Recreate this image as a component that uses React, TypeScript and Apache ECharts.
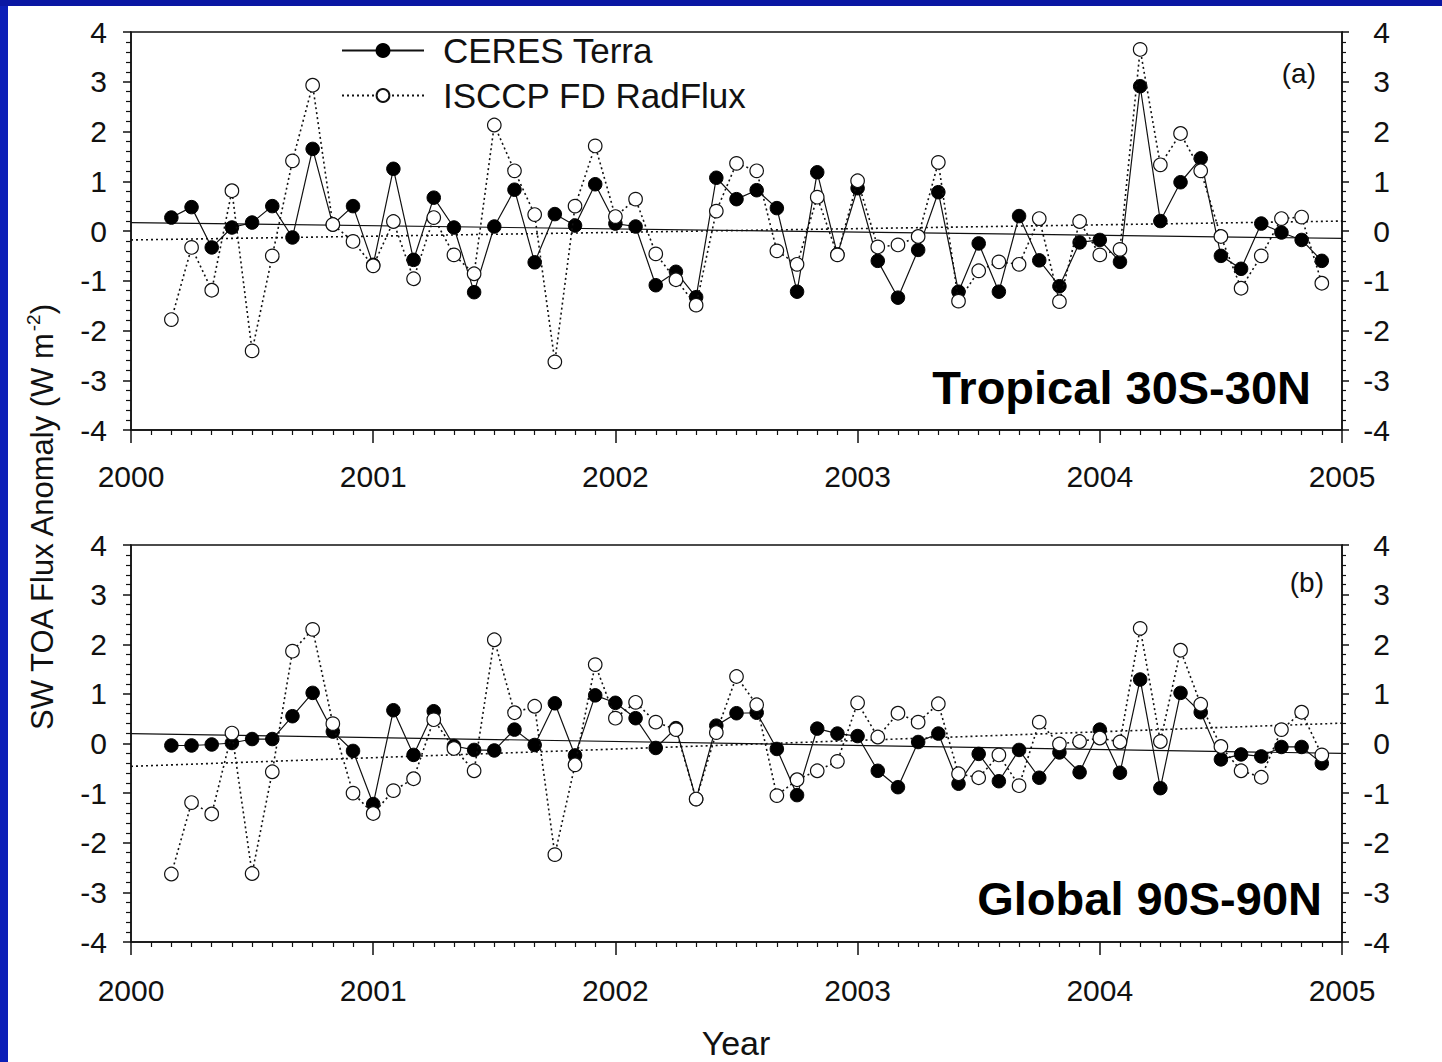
import React, { useEffect, useRef } from 'react';
import * as echarts from 'echarts';

// Monthly anomalies, March 2000 .. December 2004 (58 months)
const startYear = 2000;
const startMonthIndex = 2; // March
const tropCeres = [0.27, 0.48, -0.33, 0.07, 0.17, 0.50, -0.13, 1.65, 0.13, 0.50, -0.68, 1.25, -0.58, 0.67, 0.07, -1.23, 0.09, 0.83, -0.63,
  0.34, 0.11, 0.94, 0.15, 0.09, -1.09, -0.82, -1.33, 1.07, 0.64, 0.82, 0.46, -1.22, 1.18, -0.47, 0.86, -0.60, -1.34, -0.38, 0.78,
  -1.22, -0.25, -1.22, 0.30, -0.59, -1.11, -0.23, -0.18, -0.62, 2.91, 0.20, 0.98, 1.46, -0.50, -0.76, 0.15, -0.03, -0.18, -0.60];
const tropIsccp = [-1.78, -0.33, -1.19, 0.81, -2.41, -0.50, 1.41, 2.93, 0.13, -0.21, -0.70, 0.19, -0.96, 0.27, -0.48, -0.86, 2.13, 1.21, 0.33,
  -2.63, 0.50, 1.71, 0.29, 0.64, -0.46, -0.98, -1.49, 0.40, 1.36, 1.21, -0.40, -0.67, 0.68, -0.48, 1.01, -0.32, -0.28, -0.11, 1.38,
  -1.41, -0.80, -0.62, -0.67, 0.25, -1.42, 0.19, -0.48, -0.37, 3.65, 1.33, 1.96, 1.21, -0.11, -1.15, -0.50, 0.25, 0.28, -1.05];
const globCeres = [-0.04, -0.04, -0.02, 0.01, 0.09, 0.09, 0.55, 1.02, 0.24, -0.15, -1.22, 0.67, -0.23, 0.65, -0.05, -0.13, -0.14, 0.28, -0.03,
  0.81, -0.24, 0.97, 0.82, 0.51, -0.09, 0.31, -1.12, 0.36, 0.61, 0.62, -0.11, -1.04, 0.30, 0.20, 0.15, -0.55, -0.88, 0.03, 0.20,
  -0.81, -0.21, -0.76, -0.13, -0.69, -0.18, -0.58, 0.28, -0.59, 1.29, -0.90, 1.02, 0.63, -0.32, -0.22, -0.26, -0.07, -0.07, -0.40];
const globIsccp = [-2.63, -1.19, -1.42, 0.21, -2.62, -0.57, 1.86, 2.30, 0.40, -1.00, -1.41, -0.95, -0.71, 0.48, -0.10, -0.55, 2.09, 0.62, 0.75,
  -2.24, -0.43, 1.59, 0.51, 0.83, 0.43, 0.28, -1.12, 0.22, 1.35, 0.78, -1.05, -0.73, -0.55, -0.36, 0.82, 0.13, 0.61, 0.43, 0.80,
  -0.61, -0.69, -0.23, -0.85, 0.43, -0.01, 0.04, 0.11, 0.03, 2.32, 0.04, 1.88, 0.79, -0.06, -0.55, -0.68, 0.28, 0.63, -0.23];

// Linear trend end points [value at 2000.0, value at 2005.0]
const tropCeresTrend = [0.17, -0.15];
const tropIsccpTrend = [-0.18, 0.20];
const globCeresTrend = [0.20, -0.20];
const globIsccpTrend = [-0.46, 0.41];
const trendYears = [2000, 2005];

const seriesNames = ['CERES Terra', 'ISCCP FD RadFlux'];
const panelTitles = ['Tropical 30S-30N', 'Global 90S-90N'];
const panelTags = ['(a)', '(b)'];

const FONT = '"Liberation Sans", Arial, sans-serif';
const INK = '#111';

const toXY = (vals: number[]) =>
  vals.map((v, i) => [startYear + (startMonthIndex + i) / 12, v]);
const trendXY = (t: number[]) => trendYears.map((y, i) => [y, t[i]]);

function xAxis(gridIndex: number) {
  return {
    type: 'value', gridIndex, min: 2000, max: 2005, interval: 1,
    axisLine: { show: true, onZero: false, lineStyle: { color: INK, width: 1.5 } },
    axisTick: { show: true, length: 13, lineStyle: { color: INK, width: 1.5 } },
    minorTick: { show: true, splitNumber: 12, length: 5, lineStyle: { color: INK, width: 1.2 } },
    axisLabel: { fontSize: 30, color: INK, margin: gridIndex === 0 ? 31 : 33, fontFamily: FONT, formatter: (v: number) => String(v) },
    splitLine: { show: false }, minorSplitLine: { show: false },
  };
}
function yAxis(gridIndex: number, right: boolean) {
  return {
    type: 'value', gridIndex, min: -4, max: 4, interval: 1, position: right ? 'right' : 'left',
    axisLine: { show: true, onZero: false, lineStyle: { color: INK, width: 1.5 } },
    axisTick: { show: true, length: right ? 7 : 8, lineStyle: { color: INK, width: 1.5 } },
    minorTick: { show: true, splitNumber: 5, length: right ? 4 : 5, lineStyle: { color: INK, width: 1.2 } },
    axisLabel: { fontSize: 30, color: INK, fontFamily: FONT, margin: right ? 48 : 24, align: 'right',
      formatter: (v: number) => String(v) },
    splitLine: { show: false }, minorSplitLine: { show: false },
  };
}

function dataSeries(name: string, vals: number[], idx: number, open: boolean) {
  return {
    type: 'line', name, xAxisIndex: idx, yAxisIndex: idx * 2, data: toXY(vals),
    symbol: 'circle', symbolSize: 13.5, showAllSymbol: true,
    lineStyle: open ? { color: INK, width: 1.6, type: [2, 3] } : { color: INK, width: 1.2, type: 'solid' },
    itemStyle: open ? { color: '#fff', borderColor: INK, borderWidth: 1.2 } : { color: '#000', borderColor: '#000', borderWidth: 1 },
    z: open ? 4 : 3,
  };
}
function trendSeries(name: string, t: number[], idx: number, dotted: boolean) {
  return {
    type: 'line', name, xAxisIndex: idx, yAxisIndex: idx * 2, data: trendXY(t),
    showSymbol: false, symbol: 'none', silent: true,
    lineStyle: dotted ? { color: INK, width: 1.6, type: [2, 3] } : { color: INK, width: 1.2 },
    z: 2,
  };
}

export default function App() {
  const ref = useRef<HTMLDivElement>(null);
  useEffect(() => {
    if (!ref.current) return;
    const chart = echarts.init(ref.current, undefined, { renderer: 'svg' });
    const option: any = {
      animation: false,
      backgroundColor: '#fff',
      grid: [
        { left: 131, top: 32, width: 1211, height: 398, show: true, borderColor: INK, borderWidth: 1.5 },
        { left: 131, top: 545, width: 1211, height: 397, show: true, borderColor: INK, borderWidth: 1.5 },
      ],
      xAxis: [xAxis(0), xAxis(1)],
      yAxis: [yAxis(0, false), yAxis(0, true), yAxis(1, false), yAxis(1, true)],
      legend: {
        data: seriesNames, orient: 'vertical', left: 336, top: 28,
        itemWidth: 82, itemHeight: 16, itemGap: 10, selectedMode: false,
        textStyle: { fontSize: 35, color: INK, fontFamily: FONT, padding: [0, 0, 0, 14] },
      },
      series: [
        trendSeries('trend-a-ceres', tropCeresTrend, 0, false),
        trendSeries('trend-a-isccp', tropIsccpTrend, 0, true),
        dataSeries(seriesNames[0], tropCeres, 0, false),
        dataSeries(seriesNames[1], tropIsccp, 0, true),
        trendSeries('trend-b-ceres', globCeresTrend, 1, false),
        trendSeries('trend-b-isccp', globIsccpTrend, 1, true),
        dataSeries(seriesNames[0], globCeres, 1, false),
        dataSeries(seriesNames[1], globIsccp, 1, true),
      ],
      graphic: [
        { type: 'rect', left: 0, top: 0, shape: { width: 8, height: 1062 }, style: { fill: '#0c1fb8' }, silent: true },
        { type: 'rect', left: 0, top: 0, shape: { width: 1442, height: 6 }, style: { fill: '#0a17a3' }, silent: true },
        { type: 'text', x: 1316, y: 73, style: { text: panelTags[0], font: `28px ${FONT}`, fill: INK, align: 'right', verticalAlign: 'middle' } },
        { type: 'text', x: 1324, y: 582, style: { text: panelTags[1], font: `28px ${FONT}`, fill: INK, align: 'right', verticalAlign: 'middle' } },
        { type: 'text', x: 1311, y: 387, style: { text: panelTitles[0], font: `bold 47px ${FONT}`, fill: '#000', align: 'right', verticalAlign: 'middle' } },
        { type: 'text', x: 1322, y: 898, style: { text: panelTitles[1], font: `bold 47px ${FONT}`, fill: '#000', align: 'right', verticalAlign: 'middle' } },
        { type: 'text', x: 736, y: 1043, style: { text: 'Year', font: `34px ${FONT}`, fill: INK, align: 'center', verticalAlign: 'middle' } },
        {
          type: 'text', x: 42, y: 518, rotation: Math.PI / 2,
          style: {
            text: '{n|SW TOA Flux Anomaly (W m}{s|-2}{n|)}',
            align: 'center', verticalAlign: 'middle', fill: INK,
            rich: {
              n: { fontSize: 31, fontFamily: FONT, fill: INK, lineHeight: 36 },
              s: { fontSize: 19, fontFamily: FONT, fill: INK, lineHeight: 36, verticalAlign: 'top' },
            },
          },
        },
      ],
    };
    chart.setOption(option);
    return () => chart.dispose();
  }, []);
  return (
    <div style={{ position: 'fixed', left: 0, top: 0, width: 1442, height: 1062, background: '#fff' }}>
      <div ref={ref} style={{ width: 1442, height: 1062 }} />
    </div>
  );
}
